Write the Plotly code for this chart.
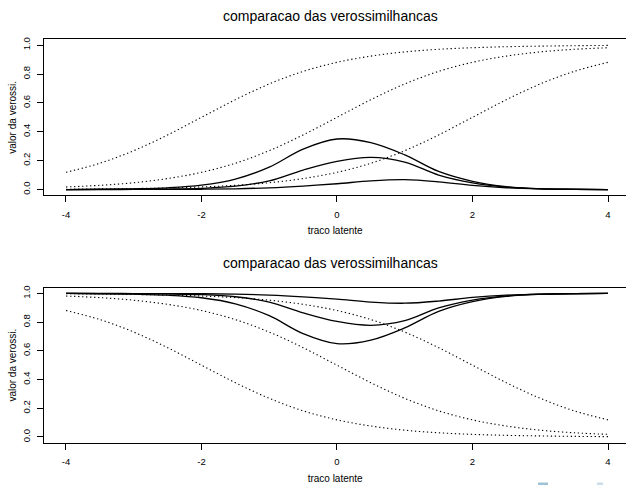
import plotly.graph_objects as go

# ---------------- data ----------------
theta = [-4.0, -3.5, -3.0, -2.5, -2.0, -1.5, -1.0, -0.5, 0.0,
         0.5, 1.0, 1.5, 2.0, 2.5, 3.0, 3.5, 4.0]

# top panel: item curves (dotted)
item_a = [0.119, 0.182, 0.269, 0.378, 0.500, 0.622, 0.731, 0.818, 0.881,
          0.924, 0.953, 0.971, 0.982, 0.989, 0.993, 0.996, 0.998]
item_b = [0.018, 0.029, 0.047, 0.076, 0.119, 0.182, 0.269, 0.378, 0.500,
          0.622, 0.731, 0.818, 0.881, 0.924, 0.953, 0.971, 0.982]
item_c = [0.002, 0.004, 0.007, 0.011, 0.018, 0.029, 0.047, 0.076, 0.119,
          0.182, 0.269, 0.378, 0.500, 0.622, 0.731, 0.818, 0.881]
# top panel: likelihoods (solid)
lik_1 = [0.000, 0.002, 0.005, 0.012, 0.030, 0.072, 0.155, 0.280, 0.350,
         0.325, 0.240, 0.125, 0.057, 0.020, 0.006, 0.002, 0.000]
lik_2 = [0.000, 0.0005, 0.001, 0.003, 0.008, 0.023, 0.060, 0.135, 0.195,
         0.222, 0.190, 0.100, 0.046, 0.017, 0.005, 0.0015, 0.000]
lik_3 = [0.000, 0.000, 0.0005, 0.001, 0.002, 0.005, 0.012, 0.024, 0.040,
         0.060, 0.068, 0.053, 0.028, 0.012, 0.004, 0.001, 0.000]

# bottom panel: item curves (dotted)
item_a2 = [0.881, 0.818, 0.731, 0.622, 0.500, 0.378, 0.269, 0.182, 0.119,
           0.076, 0.047, 0.029, 0.018, 0.011, 0.007, 0.004, 0.002]
item_b2 = [0.982, 0.971, 0.953, 0.924, 0.881, 0.818, 0.731, 0.622, 0.500,
           0.378, 0.269, 0.182, 0.119, 0.076, 0.047, 0.029, 0.018]
item_c2 = [0.998, 0.996, 0.993, 0.989, 0.982, 0.971, 0.953, 0.924, 0.881,
           0.818, 0.731, 0.622, 0.500, 0.378, 0.269, 0.182, 0.119]
# bottom panel: likelihoods (solid)
lik_12 = [1.000, 0.998, 0.995, 0.988, 0.970, 0.928, 0.845, 0.720, 0.650,
          0.675, 0.760, 0.875, 0.943, 0.980, 0.994, 0.998, 1.000]
lik_22 = [1.000, 0.9995, 0.999, 0.997, 0.992, 0.977, 0.940, 0.865, 0.805,
          0.778, 0.810, 0.900, 0.954, 0.983, 0.995, 0.9985, 1.000]
lik_32 = [1.000, 1.000, 0.9995, 0.999, 0.998, 0.995, 0.988, 0.976, 0.960,
          0.940, 0.932, 0.947, 0.972, 0.988, 0.996, 0.999, 1.000]

title_text = "comparacao das verossimilhancas"
x_title = "traco latente"
y_title = "valor da verossi."
x_ticks = [-4, -2, 0, 2, 4]
x_tick_labels = ["-4", "-2", "0", "2", "4"]
y_ticks = [0.0, 0.2, 0.4, 0.6, 0.8, 1.0]
y_tick_labels = ["0.0", "0.2", "0.4", "0.6", "0.8", "1.0"]

# ---------------- figure ----------------
W, H = 626, 485
FONT = "Liberation Sans, Arial, Helvetica, sans-serif"
fig = go.Figure()

dot_style = dict(color="black", width=1.1, dash="1.3px,2.7px")
solid_style = dict(color="black", width=1.3)

for xa, ya, dotted, solid in [
    ("x", "y", [item_a, item_b, item_c], [lik_1, lik_2, lik_3]),
    ("x2", "y2", [item_a2, item_b2, item_c2], [lik_12, lik_22, lik_32]),
]:
    for s in dotted:
        fig.add_trace(go.Scatter(x=theta, y=s, mode="lines", xaxis=xa, yaxis=ya,
                                 line=dict(shape="spline", smoothing=1.0, **dot_style),
                                 showlegend=False, hoverinfo="skip"))
    for s in solid:
        fig.add_trace(go.Scatter(x=theta, y=s, mode="lines", xaxis=xa, yaxis=ya,
                                 line=dict(shape="spline", smoothing=1.0, **solid_style),
                                 showlegend=False, hoverinfo="skip"))

def px_x(p):
    return p / W

def px_y(p):
    return (H - p) / H

x_left = 44.3
x_range = [-4.32, (W - 337.0) / 67.75]

xcommon = dict(range=x_range, domain=[px_x(x_left), 1.0], tickmode="array",
               tickvals=x_ticks, ticktext=x_tick_labels, ticks="outside",
               ticklen=6, tickwidth=1, tickcolor="black", showline=True,
               linecolor="black", linewidth=1.2, mirror=True, showgrid=False,
               zeroline=False, tickfont=dict(family=FONT, size=9.5, color="black"),
               ticklabelstandoff=4,
               title=dict(text=x_title, font=dict(family=FONT, size=10, color="black"),
                          standoff=8))
ycommon = dict(range=[-0.04, 1.04], tickmode="array", tickvals=y_ticks,
               ticktext=y_tick_labels, ticks="outside", ticklen=6, tickwidth=1,
               tickcolor="black", showline=True, linecolor="black", linewidth=1.2,
               showgrid=False, zeroline=False, tickangle=-90,
               tickfont=dict(family=FONT, size=9.5, color="black"),
               ticklabelstandoff=3,
               title=dict(text=y_title, font=dict(family=FONT, size=10, color="black"),
                          standoff=2))

fig.update_layout(
    width=W, height=H, margin=dict(l=0, r=0, t=0, b=0),
    paper_bgcolor="white", plot_bgcolor="white",
    font=dict(family=FONT, color="black"),
    xaxis=dict(anchor="y", **xcommon),
    yaxis=dict(anchor="x", domain=[px_y(194.1), px_y(37.5)], **ycommon),
    xaxis2=dict(anchor="y2", **xcommon),
    yaxis2=dict(anchor="x2", domain=[px_y(442.5), px_y(286.9)], **ycommon),
    annotations=[
        dict(text=title_text, xref="paper", yref="paper", x=px_x(330), y=px_y(14),
             xanchor="center", yanchor="middle", showarrow=False,
             font=dict(family=FONT, size=14, color="black")),
        dict(text=title_text, xref="paper", yref="paper", x=px_x(330), y=px_y(262),
             xanchor="center", yanchor="middle", showarrow=False,
             font=dict(family=FONT, size=14, color="black")),
    ],
    shapes=[
        dict(type="rect", xref="paper", yref="paper", x0=px_x(538), x1=px_x(548),
             y0=0, y1=px_y(482.5), line=dict(width=0), fillcolor="#9fc3d6"),
        dict(type="rect", xref="paper", yref="paper", x0=px_x(597), x1=px_x(603),
             y0=0, y1=px_y(482.5), line=dict(width=0), fillcolor="#c9dde8"),
    ],
)

fig.write_html("out.html")
